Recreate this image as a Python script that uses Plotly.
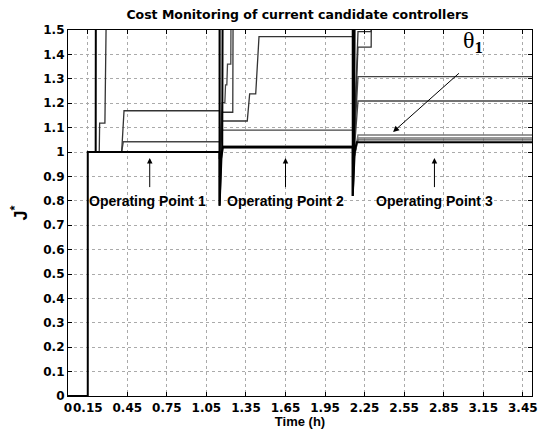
import plotly.graph_objects as go

# ---- data (time in hours, normalized cost J*) ; 2.0 = off chart (clipped) ----
tA = [0, 0.15, 0.15, 1.15, 1.15, 1.165, 1.175, 2.16, 2.16, 2.175, 2.19, 3.52]
jA = [0, 0, 1.0, 1.0, 0.78, 0.99, 1.02, 1.02, 0.82, 1.0, 1.04, 1.04]

tB = [0.15, 0.21, 0.212, 1.15, 1.15, 1.16, 1.17, 1.175, 2.16, 2.16, 2.17, 2.178, 3.52]
jB = [1.0, 1.0, 2.0, 2.0, 0.78, 0.97, 1.0, 2.0, 2.0, 0.82, 0.98, 2.0, 2.0]

tC = [0.15, 0.237, 0.24, 0.28, 0.30, 1.15, 1.15, 1.17, 1.25, 1.255, 2.16, 2.16, 2.2, 2.3, 2.305, 3.52]
jC = [1.0, 1.0, 1.118, 1.118, 2.0, 2.0, 0.97, 1.163, 1.163, 2.0, 2.0, 0.9, 1.43, 1.43, 2.0, 2.0]

tD = [0.15, 0.407, 0.425, 1.15, 1.15, 1.17, 1.36, 1.378, 1.424, 1.449, 2.16, 2.16, 2.2, 2.3, 2.302, 3.52]
jD = [1.0, 1.0, 1.169, 1.169, 0.97, 1.127, 1.127, 1.238, 1.238, 1.473, 1.473, 0.9, 1.493, 1.493, 2.0, 2.0]

tE = [0.15, 0.407, 0.42, 1.15, 1.15, 1.17, 2.16, 2.16, 2.2, 3.52]
jE = [1.0, 1.0, 1.042, 1.042, 0.97, 1.09, 1.09, 0.92, 1.309, 1.309]

tF = [0.15, 1.15, 1.15, 1.17, 1.19, 1.195, 1.205, 1.21, 1.235, 1.24, 2.16, 2.16, 2.2, 3.52]
jF = [1.0, 1.0, 0.97, 1.202, 1.202, 1.275, 1.275, 1.36, 1.36, 2.0, 2.0, 0.92, 1.209, 1.209]

tG = [0.15, 1.15, 1.15, 1.17, 2.16, 2.16, 2.2, 3.52]
jG = [1.0, 1.0, 0.97, 1.015, 1.015, 0.95, 1.07, 1.07]

tH = [0.15, 1.15, 1.15, 1.17, 2.16, 2.16, 2.2, 3.52]
jH = [1.0, 1.0, 0.97, 1.025, 1.025, 0.95, 1.057, 1.057]

tI = [0.15, 1.15, 1.15, 1.17, 2.16, 2.16, 2.2, 3.52]
jI = [1.0, 1.0, 0.97, 1.02, 1.02, 0.95, 1.05, 1.05]

series = [
    (tE, jE, "#444444", 1.3),
    (tF, jF, "#444444", 1.3),
    (tG, jG, "#777777", 1.5),
    (tH, jH, "#777777", 1.5),
    (tI, jI, "#555555", 1.3),
    (tC, jC, "#333333", 1.3),
    (tD, jD, "#333333", 1.3),
    (tB, jB, "#000000", 2.0),
    (tA, jA, "#000000", 2.0),
]

x_ticks = [0, 0.15, 0.45, 0.75, 1.05, 1.35, 1.65, 1.95, 2.25, 2.55, 2.85, 3.15, 3.45]
x_tick_text = ["0", "0.15", "0.45", "0.75", "1.05", "1.35", "1.65", "1.95", "2.25", "2.55", "2.85", "3.15", "3.45"]
y_ticks = [0, 0.1, 0.2, 0.3, 0.4, 0.5, 0.6, 0.7, 0.8, 0.9, 1.0, 1.1, 1.2, 1.3, 1.4, 1.5]
y_tick_text = ["0", "0.1", "0.2", "0.3", "0.4", "0.5", "0.6", "0.7", "0.8", "0.9", "1", "1.1", "1.2", "1.3", "1.4", "1.5"]

op_labels = ["Operating Point 1", "Operating Point 2", "Operating Point 3"]
op_x = [0.62, 1.65, 2.78]
op_text_x = [0.6, 1.65, 2.78]

fig = go.Figure()
for t, j, c, w in series:
    fig.add_trace(go.Scatter(x=t, y=j, mode="lines", line=dict(color=c, width=w),
                             showlegend=False, hoverinfo="skip"))

FONT = "DejaVu Sans"
TXT = "Liberation Sans"

for lab, xx, tx in zip(op_labels, op_x, op_text_x):
    fig.add_annotation(x=xx, y=0.975, ax=xx, ay=0.85, xref="x", yref="y", axref="x", ayref="y",
                       showarrow=True, arrowhead=2, arrowsize=1.1, arrowwidth=1, arrowcolor="black", text="")
    fig.add_annotation(x=tx, y=0.80, xref="x", yref="y", text=lab, showarrow=False,
                       font=dict(family=TXT, size=14, color="black", weight="bold"))

fig.add_annotation(x=2.466, y=1.082, ax=2.977, ay=1.328, xref="x", yref="y", axref="x", ayref="y",
                   showarrow=True, arrowhead=2, arrowsize=1.2, arrowwidth=1, arrowcolor="black", text="")
fig.add_annotation(x=3.07, y=1.45, xref="x", yref="y", showarrow=False,
                   text="θ<sub><b>1</b></sub>",
                   font=dict(family="Liberation Serif", size=24, color="black"))

fig.update_layout(
    width=539, height=427,
    margin=dict(l=60, r=15, t=22, b=39, autoexpand=False),
    paper_bgcolor="white", plot_bgcolor="white",
    title=dict(text="Cost Monitoring of current candidate controllers", x=0.537, xanchor="center",
               y=0.994, yanchor="top", pad=dict(t=0, b=0),
               font=dict(family=FONT, size=12.5, color="black", weight="bold")),
    xaxis=dict(range=[0, 3.52], tickvals=x_ticks, ticktext=x_tick_text, tickangle=0,
               automargin=False,
               showgrid=True, gridcolor="#aaaaaa", griddash="dot", gridwidth=1,
               showline=True, linecolor="black", linewidth=1.2, mirror="ticks",
               ticks="inside", ticklen=4, tickcolor="black", zeroline=False,
               tickfont=dict(family=FONT, size=12, color="black", weight="bold"),
               title=dict(text="Time (h)", standoff=2,
                          font=dict(family=TXT, size=13, color="black", weight="bold"))),
    yaxis=dict(range=[0, 1.5], tickvals=y_ticks, ticktext=y_tick_text,
               automargin=False,
               showgrid=True, gridcolor="#aaaaaa", griddash="dot", gridwidth=1,
               showline=True, linecolor="black", linewidth=1.2, mirror="ticks",
               ticks="inside", ticklen=4, tickcolor="black", zeroline=False,
               tickfont=dict(family=FONT, size=12, color="black", weight="bold"),
               title=dict(text="J<sup>*</sup>", standoff=22,
                          font=dict(family=TXT, size=18, color="black", weight="bold"))),
)

fig.write_html("out.html")
